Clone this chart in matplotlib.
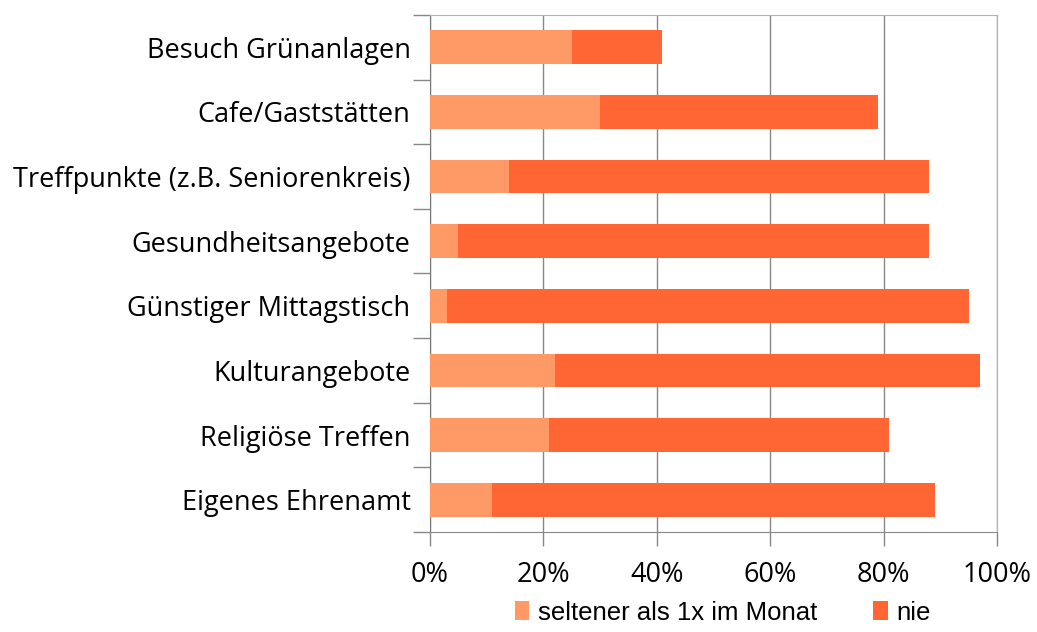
import matplotlib
matplotlib.use("Agg")
import matplotlib.pyplot as plt
import numpy as np
from matplotlib.ticker import FixedLocator, PercentFormatter

categories = [
    "Besuch Grünanlagen",
    "Cafe/Gaststätten",
    "Treffpunkte (z.B. Seniorenkreis)",
    "Gesundheitsangebote",
    "Günstiger Mittagstisch",
    "Kulturangebote",
    "Religiöse Treffen",
    "Eigenes Ehrenamt",
]
# cumulative shares
seltener = [25, 30, 14, 5, 3, 22, 21, 11]
total = [41, 79, 88, 88, 95, 97, 81, 89]
nie = [t - s for t, s in zip(total, seltener)]
series_names = ["seltener als 1x im Monat", "nie"]

c_light = "#FF9966"
c_dark = "#FF6633"

fig = plt.figure(figsize=(10.37, 6.32), dpi=100)
ax = fig.add_axes([0.4147, 0.1582, 0.9614 - 0.4147, 0.9763 - 0.1582])

y = np.arange(len(categories))
ax.barh(y, seltener, height=0.52, color=c_light, label=series_names[0], zorder=3)
ax.barh(y, nie, left=seltener, height=0.52, color=c_dark, label=series_names[1], zorder=3)

ax.set_xlim(0, 100)
ax.set_ylim(len(categories) - 0.5, -0.5)
ax.set_xticks(np.arange(0, 101, 20))
ax.xaxis.set_major_formatter(PercentFormatter(decimals=0))
ax.grid(axis="x", color="#888888", linewidth=1, zorder=0)

ax.set_yticks(y)
ax.set_yticklabels(categories, fontsize=19.5, family="Open Sans")
ax.yaxis.set_minor_locator(FixedLocator(np.arange(-0.5, len(categories), 1)))
ax.tick_params(axis="y", which="major", length=0, pad=14)
ax.tick_params(axis="y", which="minor", length=12, color="#888888", width=1)
ax.tick_params(axis="x", length=10, color="#888888", width=1, labelsize=19.5, pad=11)
for lab in ax.get_xticklabels():
    lab.set_family("Open Sans")

for side in ["top", "right"]:
    ax.spines[side].set_color("#b3b3b3")
ax.spines["left"].set_color("#777777")
ax.spines["bottom"].set_color("#888888")

fig.legend(loc="lower center", bbox_to_anchor=(0.697, -0.025), ncol=2, frameon=False,
           prop={"family": "Liberation Sans", "size": 18.5}, handlelength=0.55,
           handleheight=0.75, columnspacing=2.2, handletextpad=0.35)

fig.savefig("out.png", dpi=100)
